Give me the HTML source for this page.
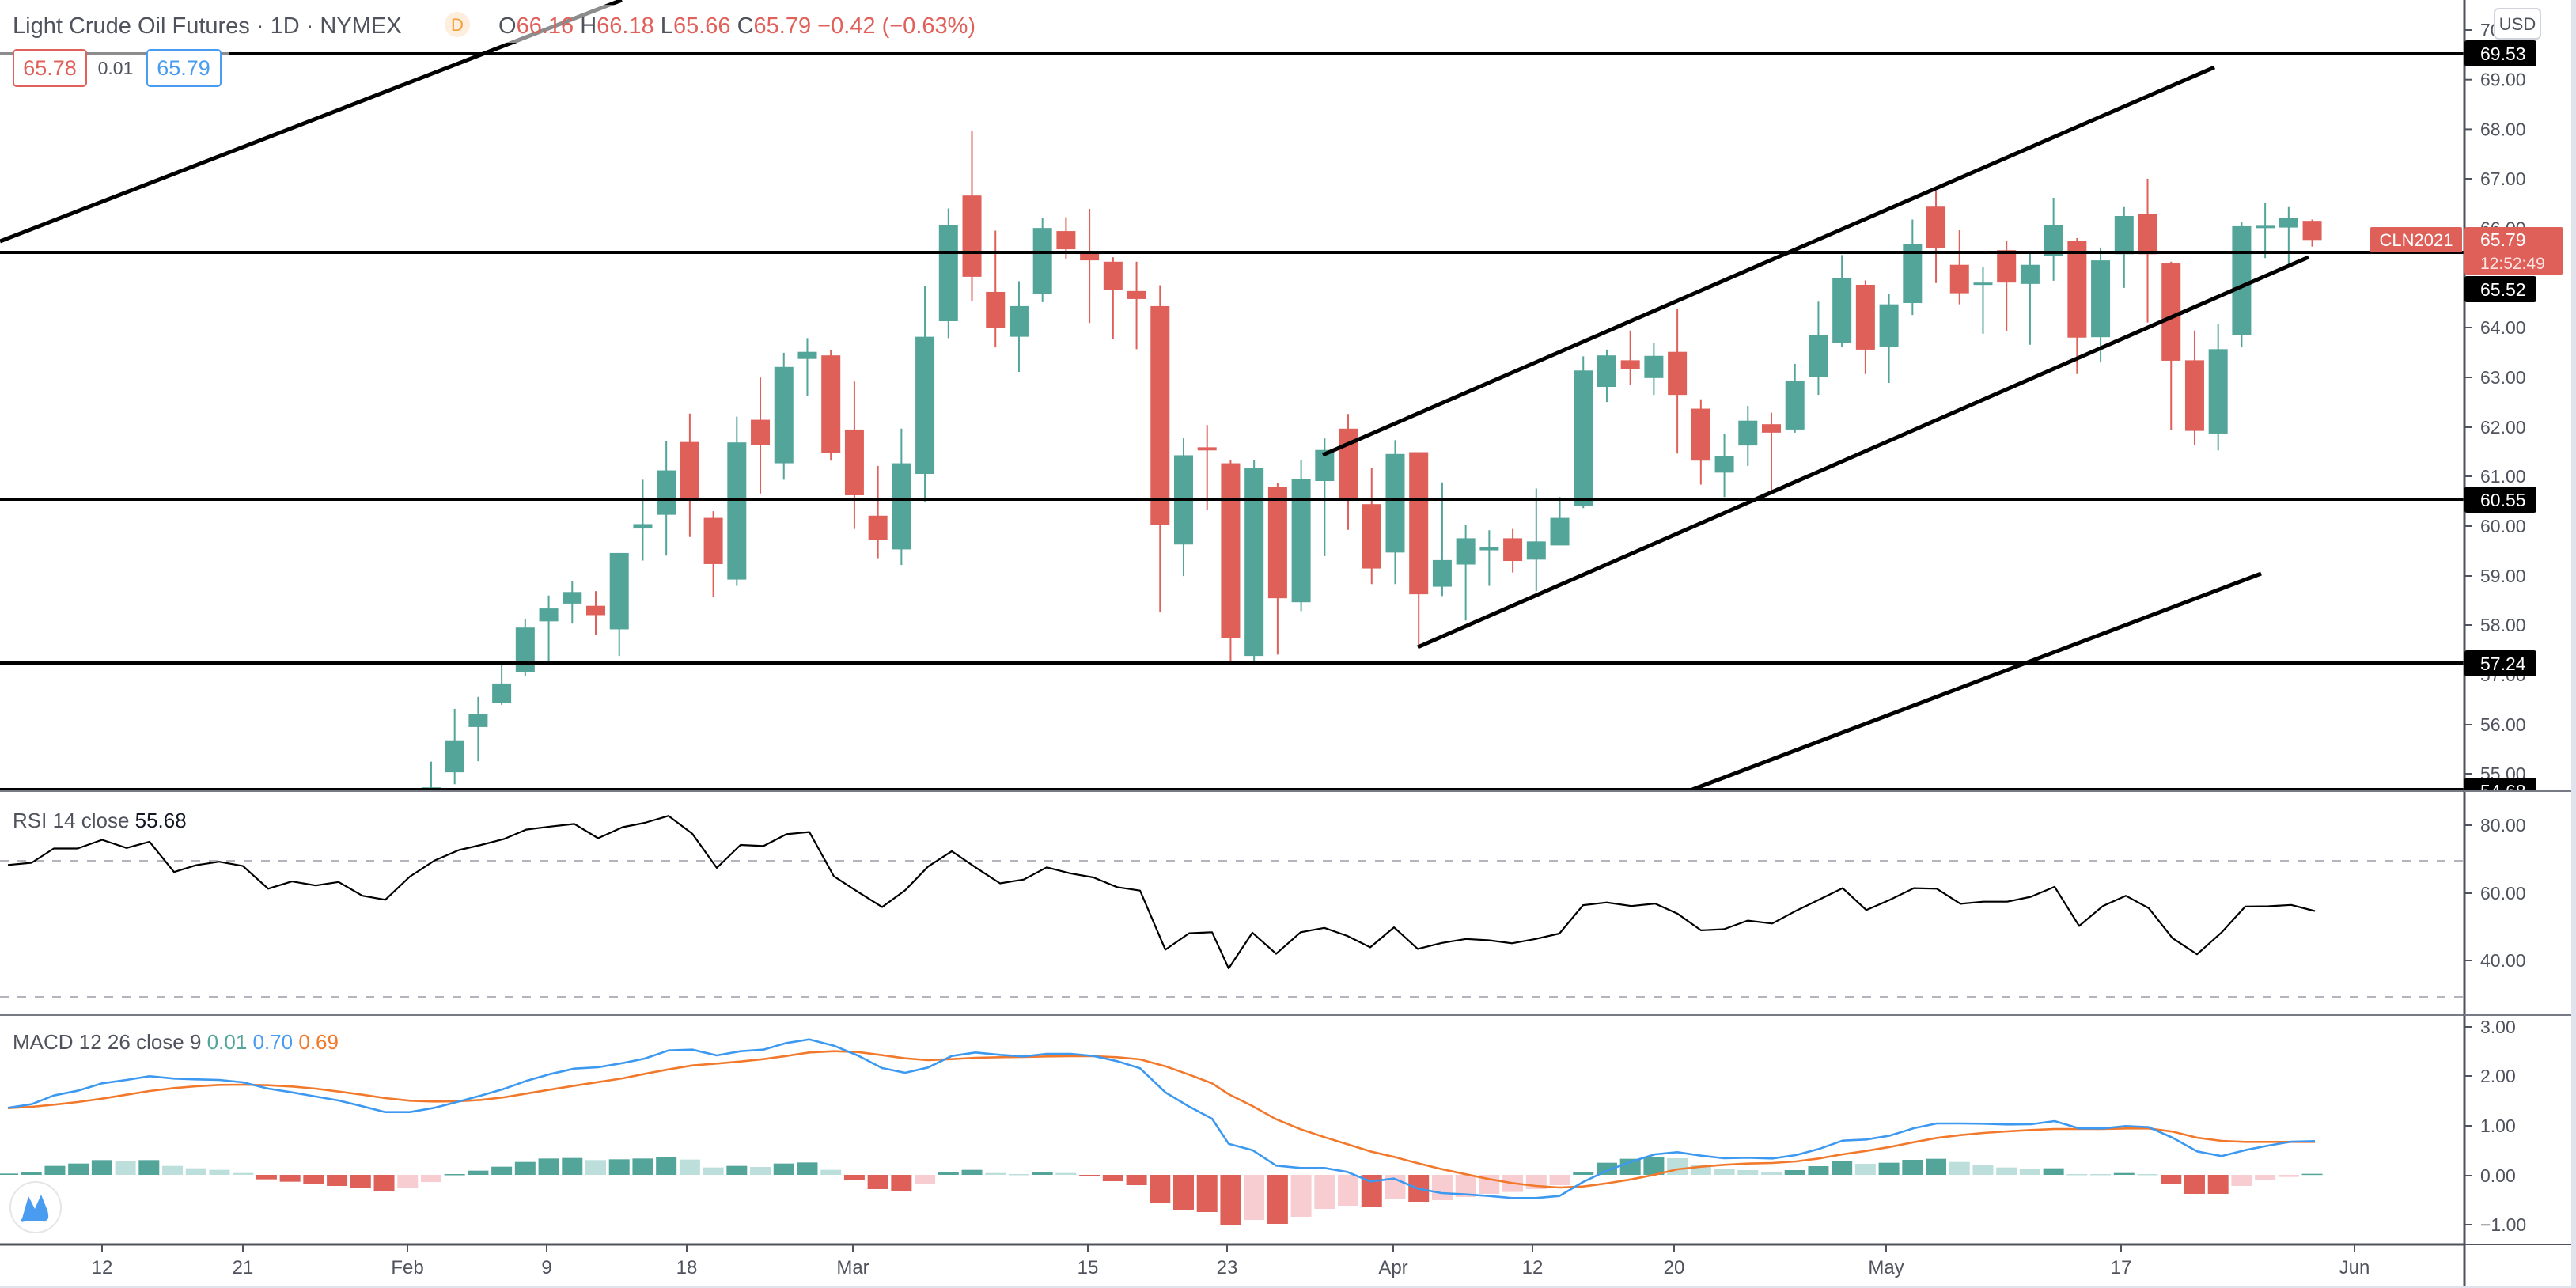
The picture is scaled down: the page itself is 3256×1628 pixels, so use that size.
<!DOCTYPE html>
<html><head><meta charset="utf-8"><style>
html,body{margin:0;padding:0;background:#fff;}
svg{display:block;}
text{font-family:"Liberation Sans",sans-serif;}
</style></head><body>
<svg id="s" xmlns="http://www.w3.org/2000/svg" width="3256" height="1628" viewBox="0 0 3256 1628">
<defs><clipPath id="pc"><rect x="3100" y="0" width="150" height="999"/></clipPath></defs>
<rect width="3256" height="1628" fill="#fff"/>
<g id="pane"></g>
<g stroke="#000" stroke-width="4">
<line x1="0" y1="68" x2="3115" y2="68"/>
<line x1="0" y1="319" x2="3115" y2="319"/>
<line x1="0" y1="631" x2="3115" y2="631"/>
<line x1="0" y1="838" x2="3115" y2="838"/>
<line x1="0" y1="998" x2="3115" y2="998"/>
</g>
<g stroke="#000" stroke-width="5" stroke-linecap="butt">
<line x1="0" y1="305" x2="786" y2="0"/>
<line x1="1672" y1="575" x2="2799" y2="85"/>
<line x1="1792" y1="818" x2="2918" y2="325"/>
<line x1="2139" y1="998" x2="2858" y2="725"/>
</g>
<rect x="0" y="6" width="1320" height="48" fill="#fff" opacity="0.55"/>
<rect x="0" y="56" width="290" height="58" fill="#fff" opacity="0.55"/>
<text x="16" y="42" font-size="29" fill="#50535e">Light Crude Oil Futures · 1D · NYMEX</text>
<circle cx="578" cy="31" r="16" fill="#fdeedd"/>
<text x="578" y="39" font-size="22" fill="#f29f3c" text-anchor="middle">D</text>
<text x="630" y="42" font-size="29" fill="#50535e">O<tspan fill="#e0605a">66.16 </tspan>H<tspan fill="#e0605a">66.18 </tspan>L<tspan fill="#e0605a">65.66 </tspan>C<tspan fill="#e0605a">65.79 −0.42 (−0.63%)</tspan></text>
<rect x="17" y="63" width="92" height="46" rx="4" fill="#fff" stroke="#e0605a" stroke-width="2"/>
<text x="63" y="95" font-size="27" fill="#e0605a" text-anchor="middle">65.78</text>
<text x="146" y="94" font-size="23" fill="#50535e" text-anchor="middle">0.01</text>
<rect x="186" y="63" width="93" height="46" rx="4" fill="#fff" stroke="#4a9cf0" stroke-width="2"/>
<text x="232" y="95" font-size="27" fill="#4a9cf0" text-anchor="middle">65.79</text>
<line x1="0" y1="1000" x2="3115" y2="1000" stroke="#787b86" stroke-width="2"/>
<g stroke="#b2b5be" stroke-width="2" stroke-dasharray="11 11">
<line x1="0" y1="1088" x2="3115" y2="1088"/>
<line x1="0" y1="1260" x2="3115" y2="1260"/>
</g>
<g id="rsi"></g>
<text x="16" y="1046" font-size="26" fill="#50535e">RSI 14 close <tspan fill="#131722">55.68</tspan></text>
<line x1="0" y1="1283" x2="3115" y2="1283" stroke="#787b86" stroke-width="2"/>
<g id="macd"></g>
<text x="16" y="1326" font-size="26" fill="#50535e">MACD 12 26 close 9 <tspan fill="#53a59a">0.01</tspan> <tspan fill="#4a9cf0">0.70</tspan> <tspan fill="#f2792b">0.69</tspan></text>
<circle cx="45" cy="1526" r="32" fill="#fff" stroke="#e6e6e6" stroke-width="2"/>
<path d="M28 1540 L36 1512 L44 1528 L52 1510 L60 1530 Q64 1545 54 1543 L32 1543 Q24 1545 28 1540Z" fill="#4a9cf0"/>
<line x1="0" y1="1573" x2="3115" y2="1573" stroke="#50535e" stroke-width="3"/>
<g id="tt" stroke="#50535e" stroke-width="2"></g>
<g font-size="24" fill="#50535e" text-anchor="middle">
<text x="129" y="1610">12</text><text x="307" y="1610">21</text><text x="515" y="1610">Feb</text>
<text x="691" y="1610">9</text><text x="868" y="1610">18</text><text x="1078" y="1610">Mar</text>
<text x="1375" y="1610">15</text><text x="1551" y="1610">23</text><text x="1761" y="1610">Apr</text>
<text x="1937" y="1610">12</text><text x="2116" y="1610">20</text><text x="2384" y="1610">May</text>
<text x="2681" y="1610">17</text><text x="2976" y="1610">Jun</text>
</g>
<g stroke="#131722" stroke-width="2" fill="none">
<circle cx="3179" cy="1602" r="8"/>
<line x1="3164" y1="1602" x2="3168" y2="1602"/><line x1="3190" y1="1602" x2="3194" y2="1602"/>
<line x1="3179" y1="1587" x2="3179" y2="1591"/><line x1="3179" y1="1613" x2="3179" y2="1617"/>
</g>
<rect x="3116" y="0" width="134" height="1628" fill="#fff"/>
<line x1="3115" y1="0" x2="3115" y2="1628" stroke="#50535e" stroke-width="3"/>
<line x1="3115" y1="1000" x2="3250" y2="1000" stroke="#787b86" stroke-width="2"/>
<line x1="3115" y1="1283" x2="3250" y2="1283" stroke="#787b86" stroke-width="2"/>
<line x1="3115" y1="1573" x2="3250" y2="1573" stroke="#50535e" stroke-width="2"/>
<g id="ax" font-size="23" fill="#50535e"></g>
<rect x="3153" y="11" width="58" height="38" rx="5" fill="#fff" stroke="#d1d4dc" stroke-width="2"/>
<text x="3182" y="38" font-size="22" fill="#50535e" text-anchor="middle">USD</text>
<g font-size="23" fill="#fff">
<rect x="3115" y="51" width="91" height="33" rx="3" fill="#000"/><text x="3135" y="76">69.53</text>
<rect x="3115" y="349" width="91" height="33" rx="3" fill="#000"/><text x="3135" y="374">65.52</text>
<rect x="3115" y="615" width="91" height="33" rx="3" fill="#000"/><text x="3135" y="640">60.55</text>
<rect x="3115" y="822" width="91" height="33" rx="3" fill="#000"/><text x="3135" y="847">57.24</text>
<g clip-path="url(#pc)"><rect x="3115" y="983" width="91" height="33" rx="3" fill="#000"/><text x="3135" y="1008">54.68</text></g>
</g>
<rect x="2996" y="287" width="116" height="32" rx="2" fill="#df5f59"/>
<text x="3054" y="311" font-size="22" fill="#fff" text-anchor="middle">CLN2021</text>
<rect x="3115" y="287" width="125" height="60" rx="3" fill="#df5f59"/>
<text x="3135" y="311" font-size="23" fill="#fff">65.79</text>
<text x="3135" y="340" font-size="21" fill="#fde3e2">12:52:49</text>
<rect x="3250" y="0" width="6" height="1628" fill="#e0e3eb"/>
<rect x="0" y="1626" width="3256" height="2" fill="#e0e3eb"/>
</svg>
<script>
var NS="http://www.w3.org/2000/svg";
function el(p,t,a){var e=document.createElementNS(NS,t);for(var k in a)e.setAttribute(k,a[k]);p.appendChild(e);return e;}
var X=function(j){return 10+j*29.72;};
var G="#53a59a",R="#df5f59";
var c3=[[77,'G',1524,1530,1466,1530],[112,'G',1418,1490,1347,1517],[148,'G',1358,1388,1320,1465],[184,'G',1290,1334,1240,1338],[219,'G',1164,1265,1145,1273],[255,'G',1121,1150,1092,1240],[291,'G',1084,1110,1060,1155],[326,'R',1115,1136,1082,1180],[363,'G',996,1168,996,1228],[399,'G',931,941,831,1013],[434,'G',810,910,744,1002],[470,'R',746,873,682,960],[506,'R',917,1021,902,1095],[542,'G',747,1056,689,1070],[577,'R',696,752,601,862],[613,'G',577,794,545,831],[650,'G',543,559,512,642],[685,'R',551,770,540,788],[721,'R',718,866,610,942],[757,'R',912,966,800,1008],[792,'G',794,988,716,1023],[828,'G',509,818,395,880],[864,'G',257,474,220,512],[899,'R',191,374,45,428],[935,'R',408,490,270,533],[971,'G',440,509,384,588],[1007,'G',264,412,242,431],[1043,'R',271,312,240,333],[1079,'R',320,337,221,478],[1114,'R',340,403,330,514],[1150,'R',406,424,340,537],[1186,'R',440,932,393,1130],[1221,'G',776,977,738,1048],[1257,'R',758,765,708,899],[1294,'R',794,1188,786,1245],[1329,'G',804,1228,787,1240],[1365,'R',847,1098,838,1225],[1401,'G',829,1107,786,1127],[1437,'G',764,834,738,1003],[1472,'R',716,872,683,944],[1508,'R',886,1031,805,1066],[1545,'G',773,995,742,1066],
['R',769,1089,769,1210],['G',1012,1072,837,1093],['G',963,1022,933,1148],['G',982,990,945,1070],['R',963,1014,942,1040],['G',970,1011,851,1082],['G',917,979,870,979],['G',585,890,553,895],['G',551,622,538,656],['R',562,581,495,617],['G',552,602,523,640],['R',543,640,447,772],['R',671,788,650,842],['G',778,815,727,870],['G',698,754,665,800],['R',706,725,680,860],['G',608,718,570,725],['G',505,599,430,640],['G',376,523,325,531],['R',392,538,382,593],['G',436,531,413,613],['G',300,433,245,460],['R',216,310,180,388],['R',347,411,269,436],['G',387,391,351,502],['R',314,387,294,497],['G',347,390,320,527],['G',257,327,196,383],['R',294,511,287,593],['G',337,510,308,567],['G',237,323,217,399],['R',232,323,153,477],['R',344,563,340,720],['R',562,721,495,752],['G',537,727,481,765],['G',260,506,250,533],['G',259,264,208,332],['G',242,263,217,345],['R',248,291,245,306]];
var pane=document.getElementById('pane');
var Y=function(z){return 140+z/1.782;};
c3.forEach(function(c,i){
 var d=(typeof c[0]==='number')?c.slice(1):c;
 var col=d[0]==='G'?G:R;var x=X(i+18);
 var wt=Y(d[3]),wb=Math.min(Y(d[4]),998);
 el(pane,'line',{x1:x,y1:wt,x2:x,y2:wb,stroke:col,'stroke-width':2});
 var bt=Y(d[1]),bb=Math.min(Y(d[2]),998);if(bb-bt<3)bb=bt+3;
 el(pane,'rect',{x:x-12,y:bt,width:24,height:bb-bt,fill:col});
});
var r1=[[10,244],[40,236],[68,183],[98,183],[129,151],[160,181],[189,158],[220,270],[248,245],[277,232],[307,248],[339,332],[369,305],[399,320],[428,307],[458,358],[487,373],[518,287],[549,228],[580,189],[608,170],[637,148],[665,113],[695,102],[726,92],[756,145],[787,104],[815,88],[845,62],[875,128],[906,255],[936,170],[965,174],[994,130],[1023,122],[1054,286],[1084,343],[1115,400],[1144,338],[1173,250],[1203,193],[1233,253],[1264,312],[1294,298],[1323,253],[1353,275],[1382,290],[1412,326],[1441,339],[1473,558],[1503,497],[1532,493],[1553,627],[1583,495],[1613,573],[1644,493],[1674,477],[1703,507],[1732,549],[1762,475],[1792,555],[1822,533],[1853,518],[1882,523],[1911,534],[1941,518],[1971,498],[2001,393],[2031,383],[2062,396],[2092,387],[2120,424],[2150,486],[2179,482],[2209,450],[2240,461],[2270,414],[2299,373],[2329,330],[2359,411],[2389,373],[2419,330],[2448,332],[2478,388],[2507,380],[2537,380],[2567,362],[2597,325],[2628,470],[2658,396],[2687,358],[2716,404],[2746,515],[2777,575],[2808,494],[2838,398],[2867,397],[2896,392],[2926,415]];
el(document.getElementById('rsi'),'polyline',{points:r1.map(function(p){return p[0]+','+(1010+p[1]/2.93).toFixed(1);}).join(' '),fill:'none',stroke:'#000','stroke-width':2.2,'stroke-linejoin':'round'});
var h=[[5,'G'],[10,'G'],[34,'G'],[43,'G'],[56,'G'],[52,'g'],[56,'G'],[34,'g'],[25,'g'],[19,'g'],[7,'g'],[-17,'R'],[-26,'R'],[-35,'R'],[-42,'R'],[-51,'R'],[-60,'R'],[-48,'r'],[-27,'r'],[3,'G'],[16,'G'],[31,'G'],[49,'G'],[62,'G'],[64,'G'],[56,'g'],[59,'G'],[62,'G'],[67,'G'],[58,'g'],[28,'g'],[34,'G'],[30,'g'],[43,'G'],[47,'G'],[19,'g'],[-18,'R'],[-54,'R'],[-60,'R'],[-33,'r'],[9,'G'],[19,'G'],[7,'g'],[3,'g'],[10,'G'],[7,'g'],[-6,'R'],[-24,'R'],[-39,'R'],[-108,'R'],[-132,'R'],[-141,'R'],[-190,'R'],[-171,'r'],[-186,'R'],[-159,'r'],[-129,'r'],[-117,'r'],[-120,'R'],[-90,'r'],[-102,'R'],[-96,'r'],[-84,'r'],[-72,'r'],[-65,'r'],[-54,'r'],[-39,'r'],[12,'G'],[46,'G'],[61,'G'],[69,'G'],[63,'g'],[39,'g'],[21,'g'],[18,'g'],[12,'g'],[18,'G'],[33,'G'],[52,'G'],[42,'g'],[46,'G'],[57,'G'],[61,'G'],[49,'g'],[37,'g'],[28,'g'],[21,'g'],[25,'G'],[3,'g'],[3,'g'],[7,'G'],[3,'g'],[-36,'R'],[-72,'R'],[-72,'R'],[-42,'r'],[-21,'r'],[-8,'r'],[4,'G']];
var cm={G:"#53a59a",g:"#bcdfdb",R:"#df5f59",r:"#f7cdd1"};
var mg=document.getElementById('macd');
h.forEach(function(b,j){var v=b[0]/3,x=X(j);var y=v>0?1485-v:1485;el(mg,'rect',{x:x-13,y:y,width:26,height:Math.max(Math.abs(v),1.5),fill:cm[b[1]]});});
var bl=[[10,352],[40,338],[68,305],[98,287],[129,259],[160,246],[189,232],[220,241],[248,244],[277,246],[307,255],[339,279],[369,293],[399,309],[428,324],[458,346],[487,368],[518,368],[549,352],[580,328],[608,305],[637,280],[665,250],[695,224],[726,203],[756,198],[787,182],[815,165],[845,134],[875,131],[906,153],[936,137],[965,131],[994,106],[1023,92],[1054,116],[1084,153],[1115,201],[1144,219],[1173,199],[1203,155],[1233,142],[1264,151],[1294,157],[1323,147],[1353,147],[1382,155],[1412,175],[1441,202],[1473,293],[1503,347],[1532,393],[1553,488],[1583,512],[1613,571],[1644,580],[1674,580],[1703,595],[1732,631],[1762,620],[1792,658],[1822,675],[1853,680],[1882,686],[1911,694],[1941,694],[1971,686],[2001,633],[2031,590],[2062,556],[2092,528],[2120,520],[2150,533],[2179,543],[2209,541],[2240,544],[2270,531],[2299,508],[2329,476],[2359,472],[2389,457],[2419,429],[2448,411],[2478,411],[2507,412],[2537,415],[2567,414],[2597,402],[2628,430],[2658,430],[2687,421],[2716,425],[2746,465],[2777,517],[2808,535],[2838,512],[2867,495],[2896,480],[2926,478]];
var or=[[10,353],[40,348],[68,340],[98,330],[129,317],[160,302],[189,288],[220,277],[248,270],[277,265],[307,264],[339,266],[369,271],[399,279],[428,290],[458,302],[487,315],[518,325],[549,328],[580,327],[608,322],[637,312],[665,298],[695,283],[726,268],[756,254],[787,240],[815,223],[845,206],[875,191],[906,184],[936,176],[965,167],[994,155],[1023,142],[1054,137],[1084,140],[1115,152],[1144,164],[1173,171],[1203,167],[1233,162],[1264,160],[1294,159],[1323,157],[1353,156],[1382,156],[1412,160],[1441,168],[1473,194],[1503,226],[1532,259],[1553,300],[1583,345],[1613,395],[1644,433],[1674,463],[1703,490],[1732,517],[1762,538],[1792,562],[1822,584],[1853,604],[1882,622],[1911,637],[1941,648],[1971,654],[2001,650],[2031,638],[2062,623],[2092,605],[2120,585],[2150,575],[2179,568],[2209,563],[2240,561],[2270,555],[2299,544],[2329,528],[2359,515],[2389,500],[2419,482],[2448,466],[2478,455],[2507,447],[2537,441],[2567,436],[2597,432],[2628,432],[2658,432],[2687,430],[2716,430],[2746,442],[2777,465],[2808,477],[2838,481],[2867,481],[2896,481],[2926,481]];
function pl(a,c){el(mg,'polyline',{points:a.map(function(p){return p[0]+','+(1283+p[1]/3).toFixed(1);}).join(' '),fill:'none',stroke:c,'stroke-width':2.6,'stroke-linejoin':'round'});}
pl(or,"#f2792b");pl(bl,"#3d99f0");
var tt=document.getElementById('tt');
[129,307,515,691,868,1078,1375,1551,1761,1937,2116,2384,2681,2976].forEach(function(x){el(tt,'line',{x1:x,y1:1574,x2:x,y2:1583});});
var ax=document.getElementById('ax');
function lab(y,t){el(ax,'line',{x1:3115,y1:y,x2:3125,y2:y,stroke:'#50535e','stroke-width':2});var e=el(ax,'text',{x:3135,y:y+8});e.textContent=t;}
var P=[['70.00',38],['69.00',100.7],['68.00',163.4],['67.00',226],['66.00',288.7],['64.00',414],['63.00',477],['62.00',540],['61.00',602],['60.00',665],['59.00',728],['58.00',790],['57.00',853],['56.00',916],['55.00',978],['80.00',1043],['60.00',1129],['40.00',1214],['3.00',1298],['2.00',1360],['1.00',1423],['0.00',1486],['−1.00',1548]];
P.forEach(function(p){lab(p[1],p[0]);});
</script>
</body></html>
